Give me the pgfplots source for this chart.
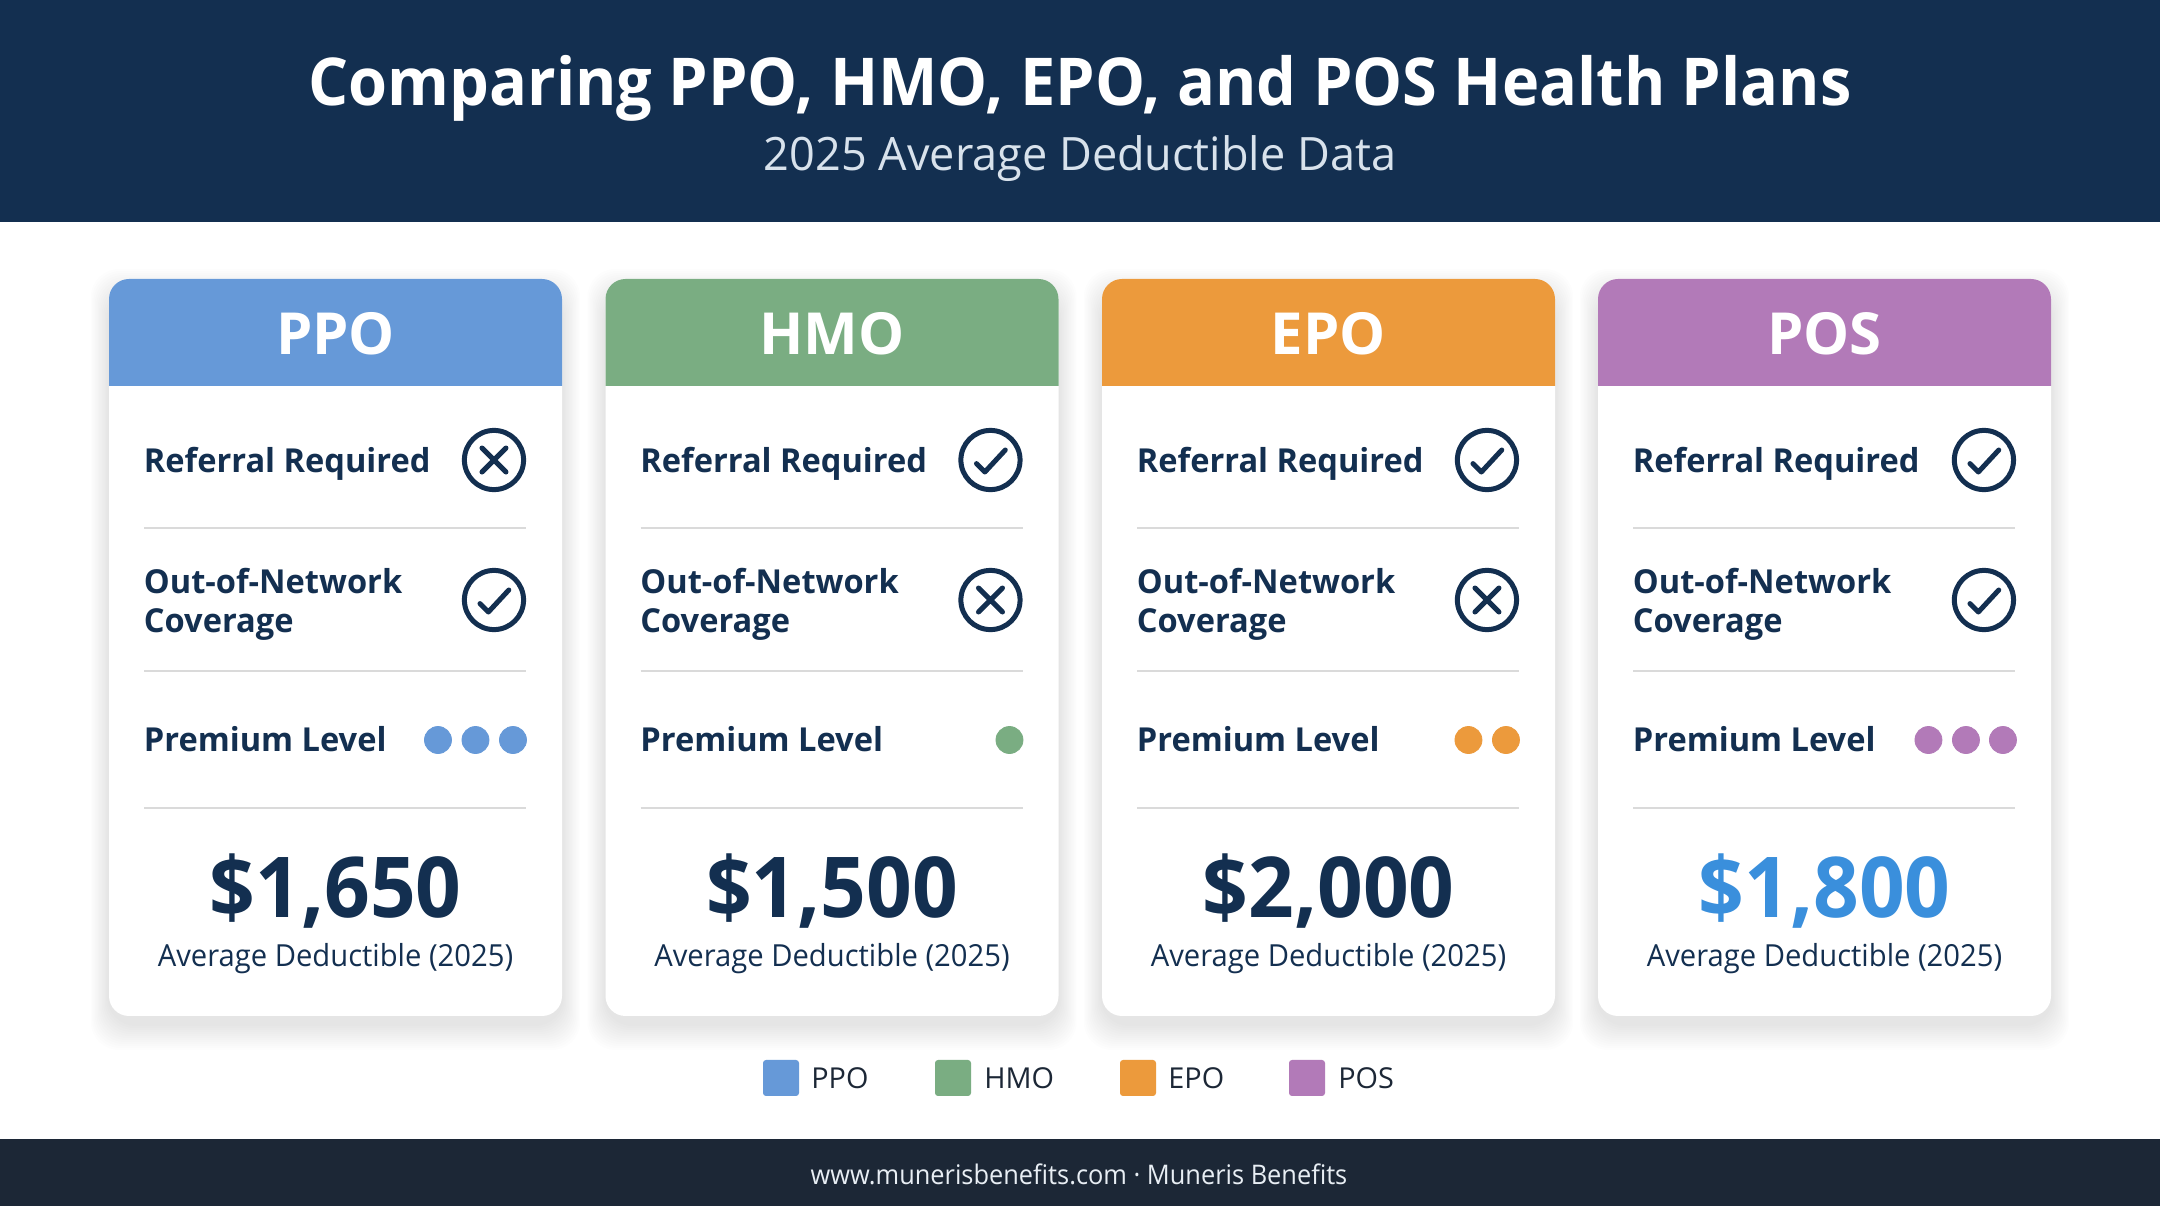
\documentclass[border=0pt]{standalone}
\usepackage{fontspec}
\setmainfont{Open Sans}
\usepackage{pgfplots}
\pgfplotsset{compat=1.18}
\definecolor{cnavy}{HTML}{132F50}
\definecolor{cfoot}{HTML}{1C2736}
\definecolor{cppo}{HTML}{6699D8}
\definecolor{chmo}{HTML}{7AAD82}
\definecolor{cepo}{HTML}{EC9A3C}
\definecolor{cpos}{HTML}{B27AB8}
\definecolor{chl}{HTML}{3A8FDC}
\definecolor{csep}{HTML}{DADADA}
\definecolor{csub}{HTML}{D8E2EC}
\newcommand{\fs}[1]{\fontsize{#1}{#1}\selectfont}
\newcommand{\sx}[2]{\scalebox{#1}[1]{#2}}
\pgfdeclareplotmark{chk}{%
  \pgfsetlinewidth{2.5pt}\pgfsetroundcap\pgfsetroundjoin
  \pgfpathcircle{\pgfpointorigin}{14.8pt}\pgfusepathqstroke
  \pgfpathmoveto{\pgfqpoint{-7pt}{-1.8pt}}
  \pgfpathlineto{\pgfqpoint{-2.8pt}{-6pt}}
  \pgfpathlineto{\pgfqpoint{7.4pt}{5pt}}
  \pgfusepathqstroke}
\pgfdeclareplotmark{crs}{%
  \pgfsetlinewidth{2.5pt}\pgfsetroundcap
  \pgfpathcircle{\pgfpointorigin}{14.8pt}\pgfusepathqstroke
  \pgfpathmoveto{\pgfqpoint{-6pt}{-6pt}}\pgfpathlineto{\pgfqpoint{6pt}{6pt}}
  \pgfpathmoveto{\pgfqpoint{-6pt}{6pt}}\pgfpathlineto{\pgfqpoint{6pt}{-6pt}}
  \pgfusepathqstroke}
\begin{document}
\begin{tikzpicture}
\path[use as bounding box] (0,0) rectangle (1080pt,603pt);
\begin{scope}[x=0.5pt,y=-0.5pt,yshift=603pt]
  \fill[white] (0,0) rectangle (2160,1206);
  \fill[cnavy] (0,0) rectangle (2160,222);
  \fill[cfoot] (0,1139) rectangle (2160,1206);
  \node[anchor=base,inner sep=0,text=white,font=\bfseries\fs{33}] at (1080,106) {\sx{0.955}{Comparing PPO, HMO, EPO, and POS Health Plans}};
  \node[anchor=base,inner sep=0,text=csub,font=\fs{23}] at (1080,171) {\sx{0.979}{2025 Average Deductible Data}};
  \node[anchor=base,inner sep=0,text=csub!60!white,font=\fs{13.5}] at (1079,1185) {\sx{0.94}{www.munerisbenefits.com · Muneris Benefits}};
  \foreach \x/\col/\name/\val/\vc in {109/cppo/PPO/{\$1,650}/cnavy,605.5/chmo/HMO/{\$1,500}/cnavy,1102/cepo/EPO/{\$2,000}/cnavy,1598/cpos/POS/{\$1,800}/chl}{
    \foreach \e in {26,24,...,2}{
      \fill[black,opacity=0.009,rounded corners=14pt] (\x-\e*0.7,279-\e+16) rectangle (\x+453+\e*0.7,1016+\e+8);
    }
    \fill[white,rounded corners=10pt] (\x,279) rectangle (\x+453,1016);
    \fill[\col] (\x,386) [rounded corners=10pt] -- (\x,279) -- (\x+453,279) [sharp corners] -- (\x+453,386) -- cycle;
    \node[anchor=base,inner sep=0,text=white,font=\bfseries\fs{29}] at (\x+226.5,355) {\name};
    \foreach \y in {528,671,808}{\draw[csep,line width=0.8pt] (\x+35,\y) -- (\x+417,\y);}
    \node[anchor=base west,inner sep=0,text=cnavy,font=\bfseries\fs{16.5}] at (\x+34.5,473) {\sx{0.988}{Referral Required}};
    \node[anchor=base west,inner sep=0,text=cnavy,font=\bfseries\fs{16.5}] at (\x+34.5,594) {\sx{0.988}{Out-of-Network}};
    \node[anchor=base west,inner sep=0,text=cnavy,font=\bfseries\fs{16.5}] at (\x+34.5,633) {\sx{0.988}{Coverage}};
    \node[anchor=base west,inner sep=0,text=cnavy,font=\bfseries\fs{16.5}] at (\x+34.5,751.5) {\sx{0.988}{Premium Level}};
    \node[anchor=base,inner sep=0,text=\vc,font=\bfseries\fs{42}] at (\x+226.5,917.5) {\sx{0.953}{\val}};
    \node[anchor=base,inner sep=0,text=cnavy,font=\fs{15.2}] at (\x+226.5,967) {\sx{0.96}{Average Deductible (2025)}};
  }
  \foreach \sx/\lx/\col/\name in {763/811/cppo/PPO,935/984/chmo/HMO,1120/1168/cepo/EPO,1289/1338/cpos/POS}{
    \fill[\col,rounded corners=1.5pt] (\sx,1060) rectangle (\sx+36,1096);
    \node[anchor=base west,inner sep=0,text=cfoot,font=\fs{14.4}] at (\lx,1089) {\name};
  }
\end{scope}
\begin{axis}[at={(0,0)},anchor=south west,width=1080pt,height=603pt,scale only axis,
  xmin=0,xmax=2160,ymin=0,ymax=1206,y dir=reverse,hide axis,clip=false]
% premium level dots
\addplot[only marks,mark=*,mark size=6.75pt,cppo,mark options={draw=none,fill=cppo}] coordinates {(438,740)(475.5,740)(513,740)};
\addplot[only marks,mark=*,mark size=6.75pt,chmo,mark options={draw=none,fill=chmo}] coordinates {(1009.5,740)};
\addplot[only marks,mark=*,mark size=6.75pt,cepo,mark options={draw=none,fill=cepo}] coordinates {(1468.5,740)(1506,740)};
\addplot[only marks,mark=*,mark size=6.75pt,cpos,mark options={draw=none,fill=cpos}] coordinates {(1928.5,740)(1966,740)(2003,740)};
% feature yes / no
\addplot[only marks,mark=chk,cnavy] coordinates {(494,600)(990.5,460)(1487,460)(1984,460)(1984,600)};
\addplot[only marks,mark=crs,cnavy] coordinates {(494,460)(990.5,600)(1487,600)};
\end{axis}
\end{tikzpicture}
\end{document}
